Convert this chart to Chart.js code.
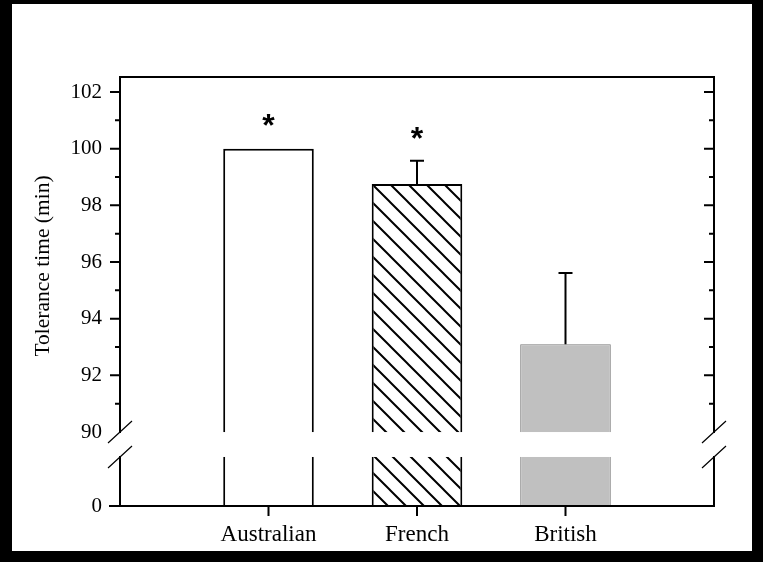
<!DOCTYPE html>
<html>
<head>
<meta charset="utf-8">
<script src="https://cdn.jsdelivr.net/npm/chart.js@4"></script>
<style>
  html, body { margin: 0; padding: 0; background: #000; }
  #frame { position: absolute; left: 12px; top: 4px; width: 740px; height: 547px; background: #fff; }
  canvas { display: block; }
</style>
</head>
<body>
<div id="frame"><canvas id="chart1" width="740" height="547"></canvas></div>
<script>
// 데이터
const groups = ['Australian', 'French', 'British'];
const toleranceMean = [100.0, 98.75, 93.1];
const toleranceSE = [0, 0.82, 2.51];
const starValue = [101.0, 100.57, null];   // 별표 높이 (min)
const yTickValues = [0, 90, 92, 94, 96, 98, 100, 102];
const yMinorValues = [91, 93, 95, 97, 99, 101];

// 끊긴 축: 0 구간과 90~102 구간
const BREAK_AT = 90;
const GAP_SPAN = 0.88;
const LOWER_SPAN = 1.73;
const Y_TOP = 102.53;
function toAxis(v) {
    return v >= BREAK_AT ? v : BREAK_AT - GAP_SPAN - LOWER_SPAN + v;
}

// 빗금 패턴
function makeHatch(ctx) {
    const s = 18;
    const c = document.createElement('canvas');
    c.width = s; c.height = s;
    const g = c.getContext('2d');
    g.fillStyle = '#fff';
    g.fillRect(0, 0, s, s);
    g.strokeStyle = '#000';
    g.lineWidth = 2;
    g.beginPath();
    g.moveTo(-2, -2); g.lineTo(s + 2, s + 2);
    g.moveTo(-2, s - 2); g.lineTo(2, s + 2);
    g.moveTo(s - 2, -2); g.lineTo(s + 2, 2);
    g.stroke();
    return ctx.createPattern(c, 'repeat');
}

const brokenAxis = {
    id: 'brokenAxis',
    afterDatasetsDraw(chart) {
        const ctx = chart.ctx;
        const x = chart.scales.x, y = chart.scales.y;
        const area = chart.chartArea;
        const yBreak = y.getPixelForValue(BREAK_AT);
        const yLowTop = y.getPixelForValue(BREAK_AT - GAP_SPAN);
        const y0 = y.getPixelForValue(toAxis(0));
        ctx.save();

        // 끊김 구간 지우기
        ctx.fillStyle = '#fff';
        ctx.fillRect(area.left + 1, yBreak, area.right - area.left - 2, yLowTop - yBreak);

        // 오차 막대
        ctx.strokeStyle = '#000';
        ctx.lineWidth = 2;
        toleranceMean.forEach((m, i) => {
            if (!toleranceSE[i]) return;
            const cx = x.getPixelForValue(i + 1);
            const top = y.getPixelForValue(toAxis(m + toleranceSE[i]));
            ctx.beginPath();
            ctx.moveTo(cx, y.getPixelForValue(toAxis(m)));
            ctx.lineTo(cx, top);
            ctx.moveTo(cx - 7, top);
            ctx.lineTo(cx + 7, top);
            ctx.stroke();
        });

        // 별표
        ctx.fillStyle = '#000';
        ctx.font = 'bold 32px "Liberation Sans"';
        ctx.textAlign = 'center';
        ctx.textBaseline = 'alphabetic';
        starValue.forEach((v, i) => {
            if (v == null) return;
            const m = ctx.measureText('*');
            const ty = y.getPixelForValue(v);
            const by = ty - (m.actualBoundingBoxDescent - m.actualBoundingBoxAscent) / 2;
            ctx.fillText('*', x.getPixelForValue(i + 1), by);
        });

        // 축 선
        const L = area.left, R = area.right, T = area.top;
        ctx.lineWidth = 2;
        ctx.lineCap = 'square';
        ctx.beginPath();
        ctx.moveTo(L, yBreak); ctx.lineTo(L, T); ctx.lineTo(R, T); ctx.lineTo(R, yBreak);
        ctx.moveTo(L, yLowTop); ctx.lineTo(L, y0);
        ctx.moveTo(R, yLowTop); ctx.lineTo(R, y0);
        ctx.moveTo(L - 10, y0); ctx.lineTo(R, y0);
        ctx.stroke();
        ctx.lineCap = 'butt';

        // 눈금
        ctx.beginPath();
        yTickValues.forEach(v => {
            if (v === 0 || v === BREAK_AT) return;
            const py = y.getPixelForValue(toAxis(v));
            ctx.moveTo(L - 10, py); ctx.lineTo(L, py);
            ctx.moveTo(R - 10, py); ctx.lineTo(R, py);
        });
        yMinorValues.forEach(v => {
            const py = y.getPixelForValue(toAxis(v));
            ctx.moveTo(L - 5, py); ctx.lineTo(L, py);
            ctx.moveTo(R - 5, py); ctx.lineTo(R, py);
        });
        groups.forEach((g, i) => {
            const px = x.getPixelForValue(i + 1);
            ctx.moveTo(px, y0); ctx.lineTo(px, y0 + 10);
        });
        ctx.stroke();

        // 끊김 표시
        ctx.lineWidth = 1.2;
        ctx.beginPath();
        [L, R].forEach(px => {
            [yBreak, yLowTop].forEach(py => {
                ctx.moveTo(px - 12, py + 11);
                ctx.lineTo(px + 12, py - 11);
            });
        });
        ctx.stroke();

        // 축 제목
        ctx.translate(31, 262);
        ctx.rotate(-Math.PI / 2);
        ctx.font = '21.5px "Liberation Serif"';
        ctx.textBaseline = 'middle';
        ctx.fillText('Tolerance time (min)', 0, 0);
        ctx.restore();
    }
};

const canvas = document.getElementById('chart1');
const ctx = canvas.getContext('2d');

new Chart(canvas, {
    type: 'bar',
    data: {
        labels: ['', ...groups, ''],
        datasets: [{
            data: [null, ...toleranceMean.map(toAxis), null],
            backgroundColor: ['#fff', '#fff', makeHatch(ctx), '#c0c0c0', '#fff'],
            borderColor: ['#000', '#000', '#000', '#7a7a7a', '#000'],
            borderWidth: [2, 2, 2, 1, 2],
            borderSkipped: 'start',
            barPercentage: 0.61,
            categoryPercentage: 1
        }]
    },
    options: {
        responsive: false,
        animation: false,
        layout: { padding: { top: 73, right: 38, left: 0, bottom: 0 } },
        plugins: { legend: { display: false }, tooltip: { enabled: false } },
        scales: {
            x: {
                offset: false,
                grid: { display: false, drawTicks: false },
                border: { display: false },
                ticks: {
                    color: '#000',
                    font: { family: 'Liberation Serif', size: 23 },
                    padding: 15,
                    autoSkip: false,
                    maxRotation: 0
                },
                afterFit: s => { s.height = 45; }
            },
            y: {
                min: toAxis(0),
                max: Y_TOP,
                grid: { display: false, drawTicks: false },
                border: { display: false },
                afterBuildTicks: s => { s.ticks = yTickValues.map(v => ({ value: toAxis(v) })); },
                ticks: {
                    color: '#000',
                    font: { family: 'Liberation Serif', size: 21 },
                    padding: 18,
                    callback: (v, i) => String(yTickValues[i])
                },
                afterFit: s => { s.width = 108; }
            }
        }
    },
    plugins: [brokenAxis]
});
</script>
</body>
</html>
